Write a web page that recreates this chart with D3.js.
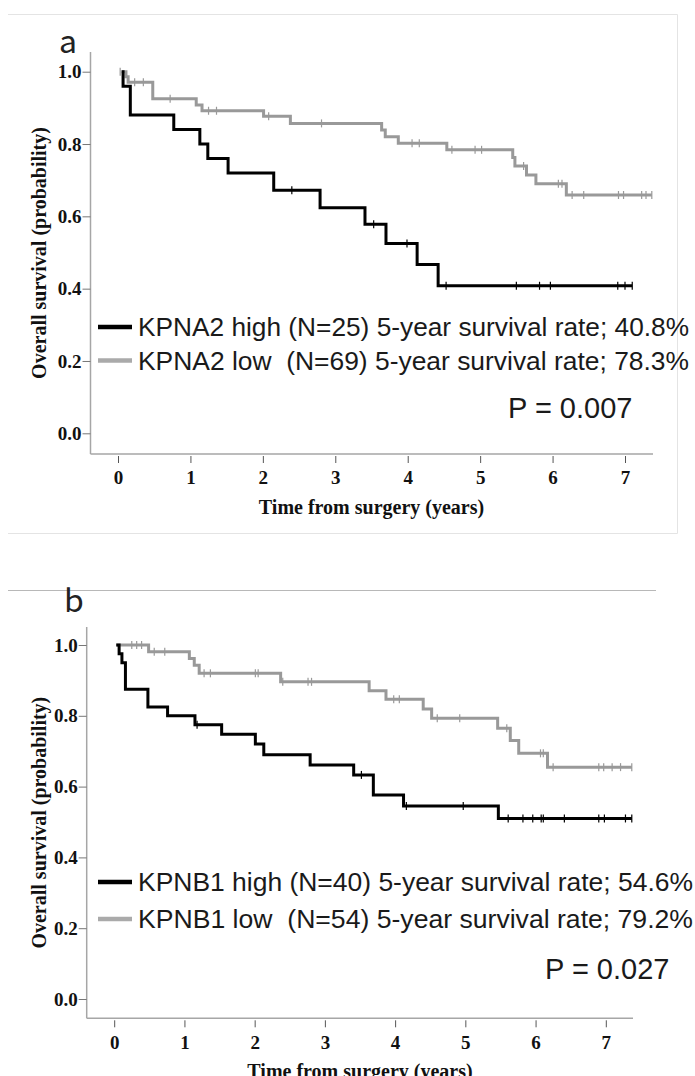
<!DOCTYPE html>
<html>
<head>
<meta charset="utf-8">
<script src="https://cdn.jsdelivr.net/npm/d3@7"></script>
<style>
  body { margin: 0; background: #fff; }
  svg { display: block; }
  .tick text { font-family: "Liberation Serif", "Times New Roman", serif; font-weight: bold; font-size: 19px; fill: #111; }
</style>
</head>
<body>
<div id="chart"></div>
<script>
// ---- data (times in years, survival probability) ----
// panel a, KPNA2
const aHighTimes = [0.05, 0.07, 0.17, 0.77, 1.13, 1.24, 1.52, 2.15, 2.79, 3.41, 3.70, 4.13, 4.42, 7.10];
const aHighSurv  = [1.0, 0.96, 0.88, 0.84, 0.80, 0.76, 0.72, 0.672, 0.624, 0.578, 0.525, 0.467, 0.408, 0.408];
const aHighCens  = [2.40, 3.53, 3.99, 4.53, 5.50, 5.82, 5.97, 6.90, 7.00, 7.10];

const aLowTimes = [0.05, 0.11, 0.14, 0.48, 1.08, 1.16, 2.01, 2.38, 3.64, 3.69, 3.87, 4.54, 5.45, 5.48, 5.64, 5.77, 6.19, 7.37];
const aLowSurv  = [1.0, 0.986, 0.971, 0.925, 0.908, 0.892, 0.877, 0.857, 0.839, 0.82, 0.802, 0.784, 0.763, 0.739, 0.714, 0.69, 0.659, 0.659];
const aLowCens  = [0.03, 0.23, 0.35, 0.72, 1.25, 1.36, 2.08, 2.81, 4.06, 4.16, 4.61, 4.93, 5.02, 5.60, 6.08, 6.13, 6.27, 6.43, 6.91, 6.98, 7.23, 7.29, 7.37];

// panel b, KPNB1
const bHighTimes = [0.03, 0.07, 0.11, 0.16, 0.48, 0.76, 1.15, 1.53, 2.01, 2.13, 2.79, 3.41, 3.69, 4.12, 5.47, 7.37];
const bHighSurv  = [1.0, 0.975, 0.95, 0.875, 0.825, 0.80, 0.775, 0.748, 0.72, 0.69, 0.661, 0.633, 0.576, 0.545, 0.51, 0.51];
const bHighCens  = [1.18, 3.52, 4.16, 4.97, 5.61, 5.82, 5.96, 6.08, 6.11, 6.41, 6.90, 6.98, 7.28, 7.37];

const bLowTimes = [0.03, 0.49, 1.07, 1.14, 1.21, 2.37, 3.63, 3.87, 4.40, 4.52, 5.46, 5.64, 5.76, 6.17, 7.37];
const bLowSurv  = [1.0, 0.981, 0.962, 0.943, 0.92, 0.896, 0.871, 0.847, 0.819, 0.793, 0.765, 0.73, 0.694, 0.655, 0.655];
const bLowCens  = [0.25, 0.32, 0.39, 0.57, 0.72, 1.28, 1.37, 2.01, 2.05, 2.40, 2.76, 2.81, 3.98, 4.06, 4.60, 4.92, 5.59, 6.07, 6.11, 6.25, 6.90, 6.97, 7.09, 7.21, 7.37];

const xTicks = [0, 1, 2, 3, 4, 5, 6, 7];
const yTicks = [0, 0.2, 0.4, 0.6, 0.8, 1.0];

const legendA = ["KPNA2 high (N=25) 5-year survival rate; 40.8%", "KPNA2 low  (N=69) 5-year survival rate; 78.3%"];
const legendB = ["KPNB1 high (N=40) 5-year survival rate; 54.6%", "KPNB1 low  (N=54) 5-year survival rate; 79.2%"];

const highColor = "#000";
const lowColor = "#999";

const svg = d3.select("#chart")
.append("svg")
  .attr("width", 695)
  .attr("height", 1076);

// frame lines
svg.append("path")
  .attr("d", "M8,14.5H677.5V533.5H8")
  .attr("fill", "none")
  .attr("stroke", "#e4e4e4")
  .attr("stroke-width", 1);
svg.append("line")
  .attr("x1", 8).attr("x2", 656).attr("y1", 590.5).attr("y2", 590.5)
  .attr("stroke", "#b8b8b8");

function drawPanel(p) {
  const g = svg.append("g");
  const x = d3.scaleLinear().domain([0, 7]).range([p.x0, p.x7]);
  const y = d3.scaleLinear().domain([0, 1]).range([p.y0, p.y1]);

  // axis lines
  g.append("line")
    .attr("x1", p.axX).attr("x2", p.axX).attr("y1", p.axTop).attr("y2", p.axY)
    .attr("stroke", "#a6a6a6").attr("stroke-width", 1.5);
  g.append("line")
    .attr("x1", p.axX).attr("x2", p.axRight).attr("y1", p.axY).attr("y2", p.axY)
    .attr("stroke", "#a6a6a6").attr("stroke-width", 1.5);

  const yAxis = g.append("g")
    .attr("transform", `translate(${p.axX},0)`)
    .call(d3.axisLeft(y).tickValues(yTicks).tickFormat(d3.format(".1f")).tickSize(8).tickPadding(1));
  yAxis.select(".domain").remove();
  yAxis.selectAll(".tick line").attr("stroke", "#777");

  const xAxis = g.append("g")
    .attr("transform", `translate(0,${p.axY + 2})`)
    .call(d3.axisBottom(x).tickValues(xTicks).tickFormat(d3.format("d")).tickSize(7).tickPadding(8));
  xAxis.select(".domain").remove();
  xAxis.selectAll(".tick line").attr("stroke", "#555");

  // titles
  g.append("text")
    .attr("x", (p.x0 + p.x7) / 2)
    .attr("y", p.axY + 60)
    .attr("text-anchor", "middle")
    .style("font-family", "Liberation Serif, serif")
    .style("font-weight", "bold")
    .style("font-size", "20px")
    .attr("fill", "#111")
    .text("Time from surgery (years)");
  g.append("text")
    .attr("transform", `translate(46,${(p.axTop + p.axY) / 2}) rotate(-90)`)
    .attr("text-anchor", "middle")
    .style("font-family", "Liberation Serif, serif")
    .style("font-weight", "bold")
    .style("font-size", "20px")
    .attr("fill", "#111")
    .text("Overall survival (probability)");

  g.append("text")
    .attr("x", p.letterX).attr("y", p.letterY)
    .style("font-family", "Noto Sans CJK SC, Liberation Sans, sans-serif")
    .style("font-size", "32px")
    .attr("fill", "#222")
    .text(p.letter);

  // curves
  const line = d3.line()
    .x(d => x(d[0]))
    .y(d => y(d[1]))
    .curve(d3.curveStepAfter);

  p.series.forEach(s => {
    const pts = s.times.map((t, i) => [t, s.surv[i]]);
    g.append("path")
      .attr("d", line(pts))
      .attr("fill", "none")
      .attr("stroke", s.color)
      .attr("stroke-width", 3);
    g.selectAll(null)
      .data(s.cens)
      .enter()
      .append("line")
      .attr("x1", d => x(d))
      .attr("x2", d => x(d))
      .attr("y1", d => y(s.surv[Math.max(0, d3.bisectRight(s.times, d) - 1)]) - 4)
      .attr("y2", d => y(s.surv[Math.max(0, d3.bisectRight(s.times, d) - 1)]) + 4)
      .attr("stroke", s.color)
      .attr("stroke-width", 1.2);
  });

  // legend
  p.legend.forEach((txt, i) => {
    const ly = p.legY[i];
    g.append("line")
      .attr("x1", 98).attr("x2", 132).attr("y1", ly).attr("y2", ly)
      .attr("stroke", i === 0 ? highColor : "#aaa")
      .attr("stroke-width", 4.5);
    g.append("text")
      .attr("x", 138).attr("y", ly)
      .attr("dy", "0.35em")
      .attr("xml:space", "preserve")
      .style("white-space", "pre")
      .style("font-family", "Liberation Sans, Arial, sans-serif")
      .style("font-size", "26px")
      .attr("fill", "#1a1a1a")
      .attr("textLength", p.legW)
      .attr("lengthAdjust", "spacingAndGlyphs")
      .text(txt);
  });

  g.append("text")
    .attr("x", p.pX).attr("y", p.pY)
    .attr("dy", "0.35em")
    .style("font-family", "Liberation Sans, Arial, sans-serif")
    .style("font-size", "29px")
    .attr("fill", "#1a1a1a")
    .text(p.pText);
}

drawPanel({
  x0: 118, x7: 625, y0: 433.3, y1: 71.7,
  axX: 90.5, axTop: 52, axY: 454, axRight: 653,
  letter: "a", letterX: 59, letterY: 53,
  series: [
    { times: aLowTimes, surv: aLowSurv, cens: aLowCens, color: lowColor },
    { times: aHighTimes, surv: aHighSurv, cens: aHighCens, color: highColor }
  ],
  legend: legendA, legY: [327, 360.5], legW: 551,
  pX: 508, pY: 408, pText: "P = 0.007"
});

drawPanel({
  x0: 114.2, x7: 605.8, y0: 999, y1: 645,
  axX: 86.7, axTop: 627, axY: 1018.3, axRight: 633,
  letter: "b", letterX: 64, letterY: 612,
  series: [
    { times: bLowTimes, surv: bLowSurv, cens: bLowCens, color: lowColor },
    { times: bHighTimes, surv: bHighSurv, cens: bHighCens, color: highColor }
  ],
  legend: legendB, legY: [882, 919], legW: 555,
  pX: 545, pY: 969, pText: "P = 0.027"
});
</script>
</body>
</html>
